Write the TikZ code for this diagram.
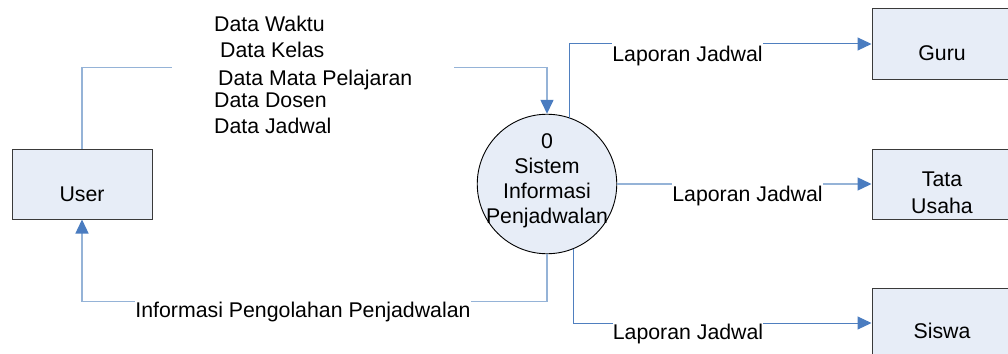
\documentclass[tikz,border=0pt]{standalone}
\usepackage{fontspec}
\setmainfont{Liberation Sans}
\usetikzlibrary{arrows.meta}

\definecolor{boxfill}{HTML}{E7EDF7}
\definecolor{boxline}{HTML}{3A3A3A}
\definecolor{flowlight}{HTML}{95B3D7}
\definecolor{flowdark}{HTML}{4F7FBF}
\definecolor{tipblue}{HTML}{4A7CC0}

% text block whose first baseline sits #1 above the node centre
\newcommand\shiftedtext[2]{\raisebox{#1}[0pt][0pt]{\begin{tabular}[t]{@{}c@{}}#2\end{tabular}}}

\begin{document}
\begin{tikzpicture}[x=1pt,y=-1pt,
  every node/.style={font=\fontsize{21.3}{25}\selectfont},
  entity/.style={draw=boxline, line width=1pt, fill=boxfill,
    minimum width=140pt, minimum height=70pt, inner sep=0pt},
  process/.style={circle, draw=black, line width=0.9pt, fill=boxfill,
    minimum size=139.5pt, inner sep=0pt},
  flow/.style={draw=flowlight, line width=1.4pt,
    -{Triangle[length=14pt,width=13pt,color=tipblue]}},
  flowstrong/.style={flow, draw=flowdark, line width=1pt},
  flowlabel/.style={fill=white, inner xsep=0pt, inner ysep=4pt, anchor=base}]

\useasboundingbox (0,0) rectangle (1008,353);

% external entities and the process
\node[entity] (user)  at (82,184)  {\shiftedtext{-17pt}{User}};
\node[entity] (guru)  at (942,44)  {\shiftedtext{-17pt}{Guru}};
\node[entity, font=\fontsize{21.3}{27}\selectfont] (tata) at (942,184) {\shiftedtext{-2pt}{Tata\\Usaha}};
\node[entity] (siswa) at (942,323) {\shiftedtext{-15pt}{Siswa}};
\node[process] (proc) at (547,184) {\shiftedtext{35.5pt}{0\\Sistem\\Informasi\\Penjadwalan}};

% data flows
\draw[flow] (user.north) -- ++(0,-81) -| (proc.north);
\draw[flow] (proc.south) -- ++(0,47) -| (user.south);
\draw[flowstrong] (proc.71.6) |- (guru.west);
\draw[flow] (proc.east) -- (tata.west);
\draw[flowstrong] (proc.-68.1) |- (siswa.west);

% flow labels (white backing breaks the line under the text)
\node[fill=white, inner xsep=42pt, inner ysep=4pt, anchor=base west] (lbl-data) at (172,32)
  {\begin{tabular}[t]{@{}l@{}}Data Waktu\\\hspace{6pt}Data Kelas\\[4pt]\hspace{4pt}Data Mata Pelajaran\\[-3pt]Data Dosen\\Data Jadwal\end{tabular}};
\node[flowlabel] (lbl-back) at (303,317) {Informasi Pengolahan Penjadwalan};
\node[flowlabel] (lbl-guru) at (687.5,61) {Laporan Jadwal};
\node[flowlabel] (lbl-tata) at (747.5,201) {Laporan Jadwal};
\node[flowlabel] (lbl-siswa) at (688,339) {Laporan Jadwal};
\end{tikzpicture}
\end{document}
